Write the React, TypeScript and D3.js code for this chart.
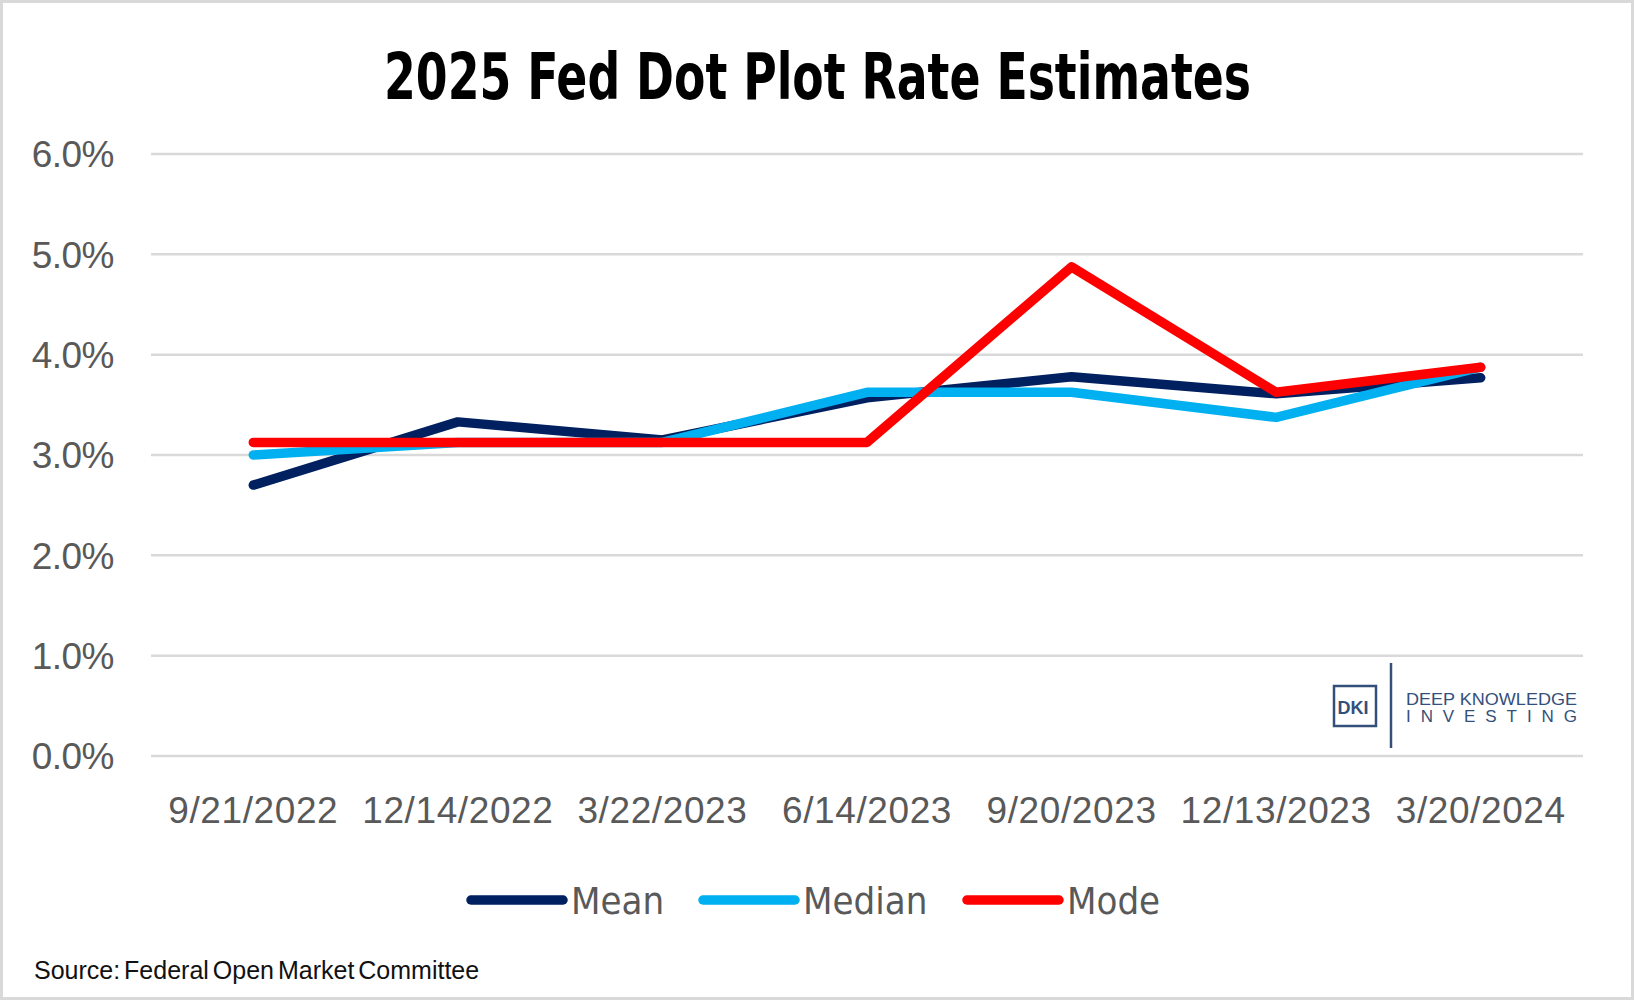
import React from "react";
import * as d3 from "d3";

const categories = ["9/21/2022", "12/14/2022", "3/22/2023", "6/14/2023", "9/20/2023", "12/13/2023", "3/20/2024"];
const meanValues = [2.7, 3.33, 3.15, 3.57, 3.78, 3.61, 3.77];
const medianValues = [3.0, 3.125, 3.125, 3.625, 3.625, 3.375, 3.875];
const modeValues = [3.125, 3.125, 3.125, 3.125, 4.875, 3.625, 3.875];
const yTicks = [0, 1, 2, 3, 4, 5, 6];
const seriesNames = ["Mean", "Median", "Mode"];
const seriesColors = ["#002060", "#00B0F0", "#FF0000"];

const W = 1634;
const H = 1000;

export default function App() {
  const x = d3.scaleBand<string>().domain(categories).range([151, 1583]).paddingInner(0).paddingOuter(0);
  const y = d3.scaleLinear().domain([0, 6]).range([756, 154]);
  const cx = (c: string) => (x(c) as number) + x.bandwidth() / 2;
  const line = d3
    .line<number>()
    .x((_, i) => cx(categories[i]))
    .y((v) => y(v));
  const series = [meanValues, medianValues, modeValues];
  const legendX = [471, 703, 967];
  const axisColor = "#595959";
  const logoColor = "#34507A";

  return (
    <svg width={W} height={H} style={{ position: "absolute", left: 0, top: 0, background: "#fff" }}>
      <rect x={1.5} y={1.5} width={W - 3} height={H - 3} fill="#fff" stroke="#D9D9D9" strokeWidth={3} />
      <text
        x={384}
        y={99}
        fontFamily="'DejaVu Sans Condensed', 'Liberation Sans Narrow', Arial, sans-serif"
        fontWeight="bold"
        fontSize={64}
        textLength={867}
        lengthAdjust="spacingAndGlyphs"
        fill="#000"
      >
        2025 Fed Dot Plot Rate Estimates
      </text>
      {yTicks.map((t) => (
        <g key={t}>
          <line x1={x.range()[0]} x2={x.range()[1]} y1={y(t)} y2={y(t)} stroke="#D9D9D9" strokeWidth={2.5} />
          <text
            x={114}
            y={y(t)}
            dy="0.36em"
            textAnchor="end"
            fontFamily="'Liberation Sans', Arial, sans-serif"
            fontSize={37}
            letterSpacing={-0.5}
            fill={axisColor}
          >
            {t.toFixed(1) + "%"}
          </text>
        </g>
      ))}
      {categories.map((c) => (
        <text
          key={c}
          x={cx(c)}
          y={823}
          textAnchor="middle"
          fontFamily="'Liberation Sans', Arial, sans-serif"
          fontSize={37}
          letterSpacing={0.6}
          fill={axisColor}
        >
          {c}
        </text>
      ))}
      {series.map((s, i) => (
        <path
          key={seriesNames[i]}
          d={line(s) as string}
          fill="none"
          stroke={seriesColors[i]}
          strokeWidth={9.5}
          strokeLinecap="round"
          strokeLinejoin="round"
        />
      ))}
      {seriesNames.map((n, i) => (
        <g key={n}>
          <line x1={legendX[i]} x2={legendX[i] + 92} y1={900} y2={900} stroke={seriesColors[i]} strokeWidth={9.5} strokeLinecap="round" />
          <text
            x={legendX[i] + 100}
            y={914}
            fontFamily="'DejaVu Sans Condensed', 'Liberation Sans Narrow', Arial, sans-serif"
            fontSize={38}
            fill={axisColor}
          >
            {n}
          </text>
        </g>
      ))}
      <text x={34} y={979} fontFamily="'Liberation Sans', Arial, sans-serif" fontSize={25} wordSpacing={-3} fill="#111">
        Source: Federal Open Market Committee
      </text>
      {/* logo */}
      <g>
        <rect x={1334} y={686} width={42} height={40} fill="none" stroke={logoColor} strokeWidth={2.5} />
        <text x={1353} y={714} textAnchor="middle" fontFamily="'Liberation Sans', Arial, sans-serif" fontWeight="bold" fontSize={18} fill={logoColor}>
          DKI
        </text>
        <line x1={1391} x2={1391} y1={663} y2={748} stroke={logoColor} strokeWidth={2.5} />
        <text x={1406} y={705} fontFamily="'Liberation Sans', Arial, sans-serif" fontSize={17} fill={logoColor} textLength={171} lengthAdjust="spacingAndGlyphs">
          DEEP KNOWLEDGE
        </text>
        <text x={1406} y={722} fontFamily="'Liberation Sans', Arial, sans-serif" fontSize={17} fill={logoColor} textLength={171} lengthAdjust="spacing">
          INVESTING
        </text>
      </g>
    </svg>
  );
}
